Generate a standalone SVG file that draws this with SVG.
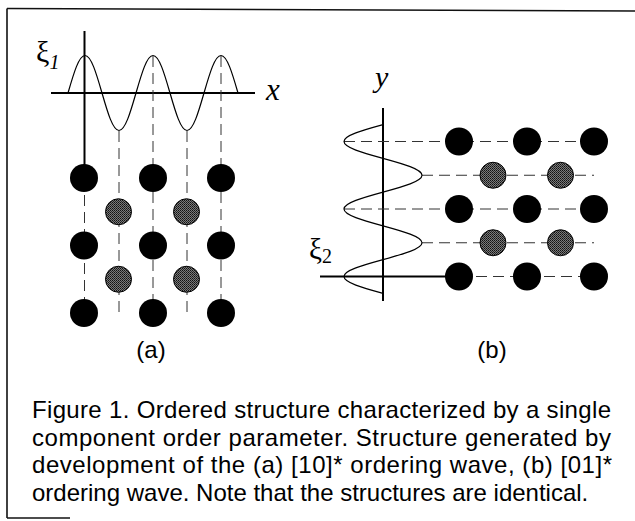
<svg xmlns="http://www.w3.org/2000/svg" width="635" height="521" viewBox="0 0 635 521">
<defs>
<pattern id="stip" width="2" height="2" patternUnits="userSpaceOnUse">
<rect width="2" height="2" fill="#7a7a7a"/>
<rect width="1" height="1" fill="#111"/>
<rect x="1" y="1" width="1" height="1" fill="#2a2a2a"/>
</pattern>
<style>
.ax{stroke:#000;stroke-width:2;fill:none}
.wave{stroke:#000;stroke-width:1.2;fill:none}
.dash{stroke:#333;stroke-width:1;stroke-dasharray:11 6;fill:none}
.blk{fill:#000}
.shd{fill:url(#stip);stroke:#000;stroke-width:1}
.serif{font-family:"Liberation Serif","Times New Roman",serif;fill:#000}
.sans{font-family:"Liberation Sans",Arial,sans-serif;fill:#000}
.border{stroke:#111;stroke-width:1.6;fill:none}
</style>
</defs>
<rect width="635" height="521" fill="#fff"/>
<g id="frame">
<line class="border" x1="7" y1="8.5" x2="635" y2="11"/>
<line class="border" x1="7" y1="8.5" x2="7" y2="518"/>
<line class="border" x1="7" y1="518" x2="70" y2="518"/>
</g>
<g id="connectors">
<line class="ax" x1="84.5" y1="31" x2="84.5" y2="165"/>
<line class="ax" x1="51" y1="93" x2="255" y2="93"/>
<line class="dash" x1="84.5" y1="178" x2="84.5" y2="300"/>
<line class="dash" x1="153" y1="56" x2="153" y2="300"/>
<line class="dash" x1="221" y1="56" x2="221" y2="300"/>
<line class="dash" x1="119" y1="131" x2="119" y2="314"/>
<line class="dash" x1="187" y1="131" x2="187" y2="314"/>
<path class="wave" d="M68,93 C73.68,73.31 78.88,55.5 85,55.5 C91.12,55.5 96.32,73.31 102,93 C107.68,112.69 112.88,130.5 119,130.5 C125.12,130.5 130.32,112.69 136,93 C141.68,73.31 146.88,55.5 153,55.5 C159.12,55.5 164.32,73.31 170,93 C175.68,112.69 180.88,130.5 187,130.5 C193.12,130.5 198.32,112.69 204,93 C209.68,73.31 214.88,55.5 221,55.5 C227.12,55.5 232.32,73.31 238,93"/>
<line class="ax" x1="383" y1="108" x2="383" y2="301"/>
<line class="ax" x1="320" y1="276.5" x2="446" y2="276.5"/>
<line class="dash" x1="344" y1="141.5" x2="594" y2="141.5"/>
<line class="dash" x1="344" y1="209" x2="594" y2="209"/>
<line class="dash" x1="459" y1="276.5" x2="594" y2="276.5"/>
<line class="dash" x1="422" y1="175.25" x2="594" y2="175.25"/>
<line class="dash" x1="422" y1="242.75" x2="594" y2="242.75"/>
<path class="wave" d="M383,124.63 C362.52,130.27 344,135.43 344,141.5 C344,147.58 362.52,152.73 383,158.38 C403.48,164.02 422,169.18 422,175.25 C422,181.33 403.48,186.48 383,192.13 C362.52,197.77 344,202.93 344,209 C344,215.08 362.52,220.23 383,225.88 C403.48,231.52 422,236.68 422,242.75 C422,248.83 403.48,253.98 383,259.63 C362.52,265.27 344,270.43 344,276.5 C344,282.58 362.52,287.73 383,293.38"/>
</g>
<g id="panel-a-atoms">
<circle id="a-r1c1" class="blk" cx="84" cy="178" r="14"/>
<circle id="a-r1c3" class="blk" cx="153" cy="178" r="14"/>
<circle id="a-r1c5" class="blk" cx="221" cy="178" r="14"/>
<circle id="a-r2c2" class="shd" cx="118.5" cy="211.75" r="13"/>
<circle id="a-r2c4" class="shd" cx="186.5" cy="211.75" r="13"/>
<circle id="a-r3c1" class="blk" cx="84" cy="245.5" r="14"/>
<circle id="a-r3c3" class="blk" cx="153" cy="245.5" r="14"/>
<circle id="a-r3c5" class="blk" cx="221" cy="245.5" r="14"/>
<circle id="a-r4c2" class="shd" cx="118.5" cy="279.25" r="13"/>
<circle id="a-r4c4" class="shd" cx="186.5" cy="279.25" r="13"/>
<circle id="a-r5c1" class="blk" cx="84" cy="313" r="14"/>
<circle id="a-r5c3" class="blk" cx="153" cy="313" r="14"/>
<circle id="a-r5c5" class="blk" cx="221" cy="313" r="14"/>
</g>
<g id="panel-b-atoms">
<circle id="b-r1c1" class="blk" cx="459" cy="141.5" r="14"/>
<circle id="b-r1c3" class="blk" cx="527" cy="141.5" r="14"/>
<circle id="b-r1c5" class="blk" cx="594" cy="141.5" r="14"/>
<circle id="b-r2c2" class="shd" cx="493" cy="175.25" r="13"/>
<circle id="b-r2c4" class="shd" cx="560.5" cy="175.25" r="13"/>
<circle id="b-r3c1" class="blk" cx="459" cy="209" r="14"/>
<circle id="b-r3c3" class="blk" cx="527" cy="209" r="14"/>
<circle id="b-r3c5" class="blk" cx="594" cy="209" r="14"/>
<circle id="b-r4c2" class="shd" cx="493" cy="242.75" r="13"/>
<circle id="b-r4c4" class="shd" cx="560.5" cy="242.75" r="13"/>
<circle id="b-r5c1" class="blk" cx="459" cy="276.5" r="14"/>
<circle id="b-r5c3" class="blk" cx="527" cy="276.5" r="14"/>
<circle id="b-r5c5" class="blk" cx="594" cy="276.5" r="14"/>
</g>
<g id="labels">
<text class="serif" x="36" y="62" font-size="30">ξ<tspan font-size="20" font-style="italic" dy="7">1</tspan></text>
<text class="serif" x="266" y="100" font-size="31" font-style="italic">x</text>
<text class="serif" x="375" y="87" font-size="30" font-style="italic">y</text>
<text class="serif" x="309" y="259" font-size="29">ξ<tspan font-size="20" dy="4">2</tspan></text>
<text class="sans" x="151" y="358" font-size="24" text-anchor="middle">(a)</text>
<text class="sans" x="492" y="358" font-size="24" text-anchor="middle">(b)</text>
</g>
<g id="caption" class="sans" font-size="24">
<text x="32" y="418" textLength="579" lengthAdjust="spacing">Figure 1. Ordered structure characterized by a single</text>
<text x="32" y="445.5" textLength="579" lengthAdjust="spacing">component order parameter. Structure generated by</text>
<text x="32" y="473" textLength="580" lengthAdjust="spacing">development of the (a) [10]* ordering wave, (b) [01]*</text>
<text x="32" y="500.5">ordering wave. Note that the structures are identical.</text>
</g>
</svg>
